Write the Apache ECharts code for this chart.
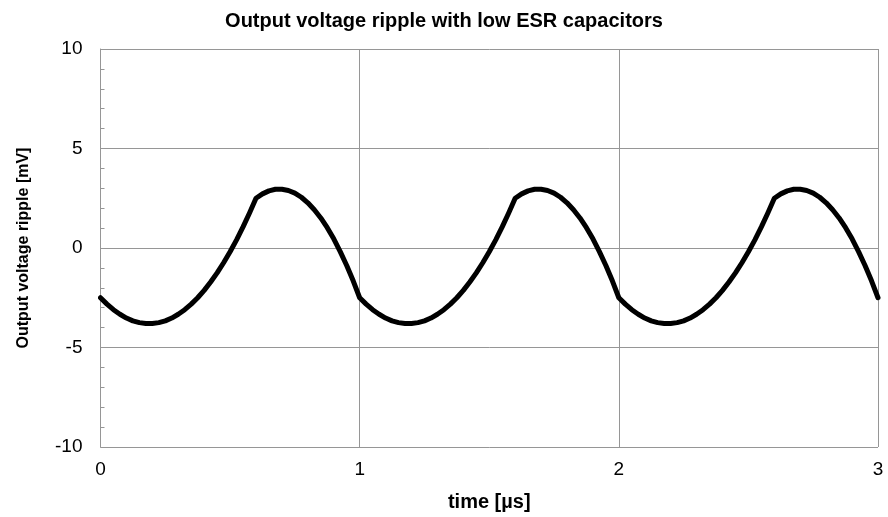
<!DOCTYPE html>
<html>
<head>
<meta charset="utf-8">
<script src="https://cdn.jsdelivr.net/npm/echarts@6/dist/echarts.min.js"></script>
<style>html,body{margin:0;padding:0;background:#fff}#c{width:888px;height:517px}</style>
</head>
<body>
<div id="c"></div>
<script>
var titleText = 'Output voltage ripple with low ESR capacitors';
var xName = 'time [\u00b5s]';
var yName = 'Output voltage ripple [mV]';
var timeUs = [0,0.025,0.05,0.075,0.1,0.125,0.15,0.175,0.2,0.225,0.25,0.275,0.3,0.325,0.35,0.375,0.4,0.425,0.45,0.475,
  0.5,0.525,0.55,0.575,0.6,0.625,0.65,0.675,0.7,0.725,0.75,0.775,0.8,0.825,0.85,0.875,0.9,0.925,0.95,0.975,
  1,1.025,1.05,1.075,1.1,1.125,1.15,1.175,1.2,1.225,1.25,1.275,1.3,1.325,1.35,1.375,1.4,1.425,1.45,1.475,
  1.5,1.525,1.55,1.575,1.6,1.625,1.65,1.675,1.7,1.725,1.75,1.775,1.8,1.825,1.85,1.875,1.9,1.925,1.95,1.975,
  2,2.025,2.05,2.075,2.1,2.125,2.15,2.175,2.2,2.225,2.25,2.275,2.3,2.325,2.35,2.375,2.4,2.425,2.45,2.475,
  2.5,2.525,2.55,2.575,2.6,2.625,2.65,2.675,2.7,2.725,2.75,2.775,2.8,2.825,2.85,2.875,2.9,2.925,2.95,2.975,3];
var rippleMv = [
  -2.50,-2.82,-3.10,-3.33,-3.52,-3.66,-3.75,-3.79,-3.79,-3.75,-3.66,-3.52,-3.33,-3.10,-2.82,-2.50,-2.13,-1.71,-1.25,-0.74,
  -0.19,0.41,1.06,1.76,2.50,2.72,2.87,2.95,2.95,2.89,2.76,2.55,2.27,1.92,1.51,1.02,0.46,-0.18,-0.88,-1.65,
  -2.50,-2.82,-3.10,-3.33,-3.52,-3.66,-3.75,-3.79,-3.79,-3.75,-3.66,-3.52,-3.33,-3.10,-2.82,-2.50,-2.13,-1.71,-1.25,-0.74,
  -0.19,0.41,1.06,1.76,2.50,2.72,2.87,2.95,2.95,2.89,2.76,2.55,2.27,1.92,1.51,1.02,0.46,-0.18,-0.88,-1.65,
  -2.50,-2.82,-3.10,-3.33,-3.52,-3.66,-3.75,-3.79,-3.79,-3.75,-3.66,-3.52,-3.33,-3.10,-2.82,-2.50,-2.13,-1.71,-1.25,-0.74,
  -0.19,0.41,1.06,1.76,2.50,2.72,2.87,2.95,2.95,2.89,2.76,2.55,2.27,1.92,1.51,1.02,0.46,-0.18,-0.88,-1.65,
  -2.50];

var pts = timeUs.map(function(t,i){return [t, rippleMv[i]];});
var font = 'Liberation Sans, Arial, sans-serif';
var gray = '#969696';
var chart = echarts.init(document.getElementById('c'), null, {renderer:'canvas'});
chart.setOption({
  animation:false,
  backgroundColor:'#fff',
  title:{text:titleText,left:'center',top:6,
    textStyle:{fontFamily:font,fontSize:20,fontWeight:'bold',color:'#000'}},
  grid:{left:100.5,right:10,top:49,bottom:67,containLabel:false},
  xAxis:{type:'value',min:0,max:3,interval:1,
    name:xName,nameLocation:'middle',nameGap:45,
    nameTextStyle:{fontFamily:font,fontSize:20,fontWeight:'bold',color:'#000'},
    axisLine:{show:true,lineStyle:{color:gray,width:1}},
    axisTick:{show:true,length:5,lineStyle:{color:gray}},
    axisLabel:{fontFamily:font,fontSize:19,color:'#000',margin:13},
    splitLine:{show:true,lineStyle:{color:gray,width:1}}},
  yAxis:{type:'value',min:-10,max:10,interval:5,
    name:yName,nameLocation:'middle',nameGap:69,
    nameTextStyle:{fontFamily:font,fontSize:16,fontWeight:'bold',color:'#000'},
    axisLine:{show:true,lineStyle:{color:gray,width:1}},
    axisTick:{show:true,inside:true,length:4,lineStyle:{color:gray}},
    minorTick:{show:true,splitNumber:5,length:4,lineStyle:{color:gray}},
    axisLabel:{fontFamily:font,fontSize:19,color:'#000',margin:18},
    splitLine:{show:true,lineStyle:{color:gray,width:1}}},
  series:[{type:'line',data:pts,showSymbol:false,smooth:false,
    lineStyle:{color:'#000',width:5,join:'round',cap:'round'}}]
});
</script>
</body>
</html>
